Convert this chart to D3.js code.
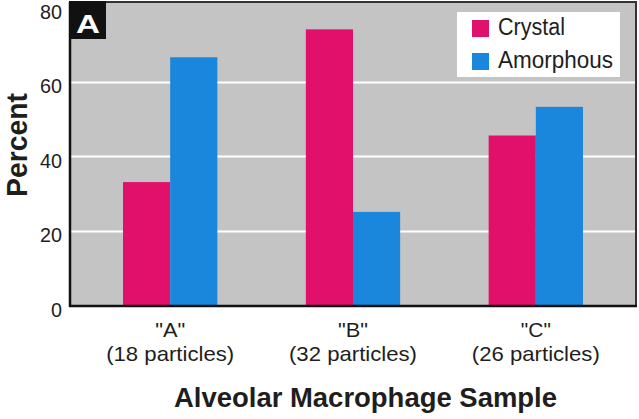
<!DOCTYPE html>
<html>
<head>
<meta charset="utf-8">
<script src="https://cdn.jsdelivr.net/npm/d3@7"></script>
<style>
  html, body { margin: 0; padding: 0; background: #ffffff; }
  svg { display: block; }
  text { font-family: "Liberation Sans", Arial, sans-serif; fill: #1e1e1e; }
</style>
</head>
<body>
<svg id="chart" width="639" height="419"></svg>
<script>
const categories = ['"A"', '"B"', '"C"'];
const categorySubLabels = ["(18 particles)", "(32 particles)", "(26 particles)"];
const seriesNames = ["Crystal", "Amorphous"];
const crystal = [33, 74, 45.5];
const amorphous = [66.5, 25, 53.2];
const yTicks = [0, 20, 40, 60, 80];
const colors = ["#e0106b", "#1a86dc"];

const svg = d3.select("#chart");
const plot = { left: 70, right: 636, top: 2, bottom: 306 };

const x = d3.scaleBand().domain(categories).range([plot.left, plot.right]).paddingInner(0.484).paddingOuter(0.29);
const xs = d3.scaleBand().domain(seriesNames).range([0, x.bandwidth()]);
const y = d3.scaleLinear().domain([0, 80]).range([305, 7]);

// condense text to a measured width (reference uses a condensed face)
function fit(sel, w) {
  return sel.attr("textLength", w).attr("lengthAdjust", "spacingAndGlyphs");
}

// background
svg.append("rect")
  .attr("x", plot.left).attr("y", plot.top)
  .attr("width", plot.right - plot.left).attr("height", plot.bottom - plot.top)
  .attr("fill", "#c4c4c4");

// gridlines
svg.append("g").selectAll("line")
  .data(yTicks.filter(d => d > 0 && d < 80))
  .join("line")
  .attr("x1", plot.left).attr("x2", plot.right)
  .attr("y1", d => Math.round(y(d)) + 0.5).attr("y2", d => Math.round(y(d)) + 0.5)
  .attr("stroke", "#ffffff").attr("stroke-width", 2);

// bars
const data = categories.map((c, i) => ({ cat: c, vals: [crystal[i], amorphous[i]] }));
const groups = svg.append("g").selectAll("g")
  .data(data).join("g")
  .attr("transform", d => `translate(${x(d.cat)},0)`);
groups.selectAll("rect")
  .data(d => d.vals.map((v, j) => ({ name: seriesNames[j], v, j })))
  .join("rect")
  .attr("x", d => xs(d.name))
  .attr("width", xs.bandwidth())
  .attr("y", d => y(d.v))
  .attr("height", d => y(0) - y(d.v))
  .attr("fill", d => colors[d.j]);

// frame: top & right dark lines
svg.append("path")
  .attr("d", `M${plot.left},${plot.top} H${plot.right} V${plot.bottom}`)
  .attr("fill", "none").attr("stroke", "#333").attr("stroke-width", 2);

// y axis
const yAxis = d3.axisLeft(y).tickValues(yTicks).tickSize(0).tickPadding(8);
const gy = svg.append("g").attr("transform", `translate(${plot.left},0)`).call(yAxis);
gy.select(".domain").remove();
gy.selectAll("text")
  .attr("font-size", 20)
  .attr("font-family", '"Liberation Sans", Arial, sans-serif')
  .attr("fill", "#1e1e1e")
  .attr("dy", null).attr("y", 11)
  .each(function(d) { fit(d3.select(this), d === 0 ? 11 : 22); });

svg.append("line").attr("x1", plot.left).attr("x2", plot.left).attr("y1", plot.top).attr("y2", plot.bottom + 1)
  .attr("stroke", "#111").attr("stroke-width", 2.5);
svg.append("line").attr("x1", plot.left - 1).attr("x2", plot.right + 1).attr("y1", plot.bottom).attr("y2", plot.bottom)
  .attr("stroke", "#111").attr("stroke-width", 2.5);

// x axis
const xAxis = d3.axisBottom(x).tickSize(0).tickFormat("");
const gx = svg.append("g").attr("transform", `translate(0,${plot.bottom})`).call(xAxis);
gx.select(".domain").remove();
gx.selectAll(".tick").each(function(d, i) {
  const t = d3.select(this);
  fit(t.append("text").attr("y", 31).attr("text-anchor", "middle").attr("font-size", 21)
    .style("fill", "#1e1e1e").text(d), 30);
  fit(t.append("text").attr("y", 55).attr("text-anchor", "middle").attr("font-size", 21)
    .style("fill", "#1e1e1e").text(categorySubLabels[i]), 128);
});

// axis titles
fit(svg.append("text").attr("x", 365.5).attr("y", 407).attr("text-anchor", "middle")
  .attr("font-size", 27).attr("font-weight", "bold").text("Alveolar Macrophage Sample"), 383);
fit(svg.append("text").attr("transform", "translate(27,145) rotate(-90)").attr("text-anchor", "middle")
  .attr("font-size", 29).attr("font-weight", "bold").text("Percent"), 104);

// panel label
svg.append("rect").attr("x", 69).attr("y", 1).attr("width", 37).attr("height", 38).attr("fill", "#111");
fit(svg.append("text").attr("x", 88).attr("y", 33).attr("text-anchor", "middle")
  .attr("font-size", 25).attr("font-weight", "bold").style("fill", "#ffffff").text("A"), 24);

// legend
const lg = svg.append("g");
lg.append("rect").attr("x", 457).attr("y", 12).attr("width", 163).attr("height", 65).attr("fill", "#ffffff");
const legendWidths = [67, 115];
seriesNames.forEach((n, i) => {
  lg.append("rect").attr("x", 472).attr("y", 20 + i * 33).attr("width", 17).attr("height", 17).attr("fill", colors[i]);
  fit(lg.append("text").attr("x", 498).attr("y", 35 + i * 33).attr("font-size", 23).text(n), legendWidths[i]);
});
</script>
</body>
</html>
